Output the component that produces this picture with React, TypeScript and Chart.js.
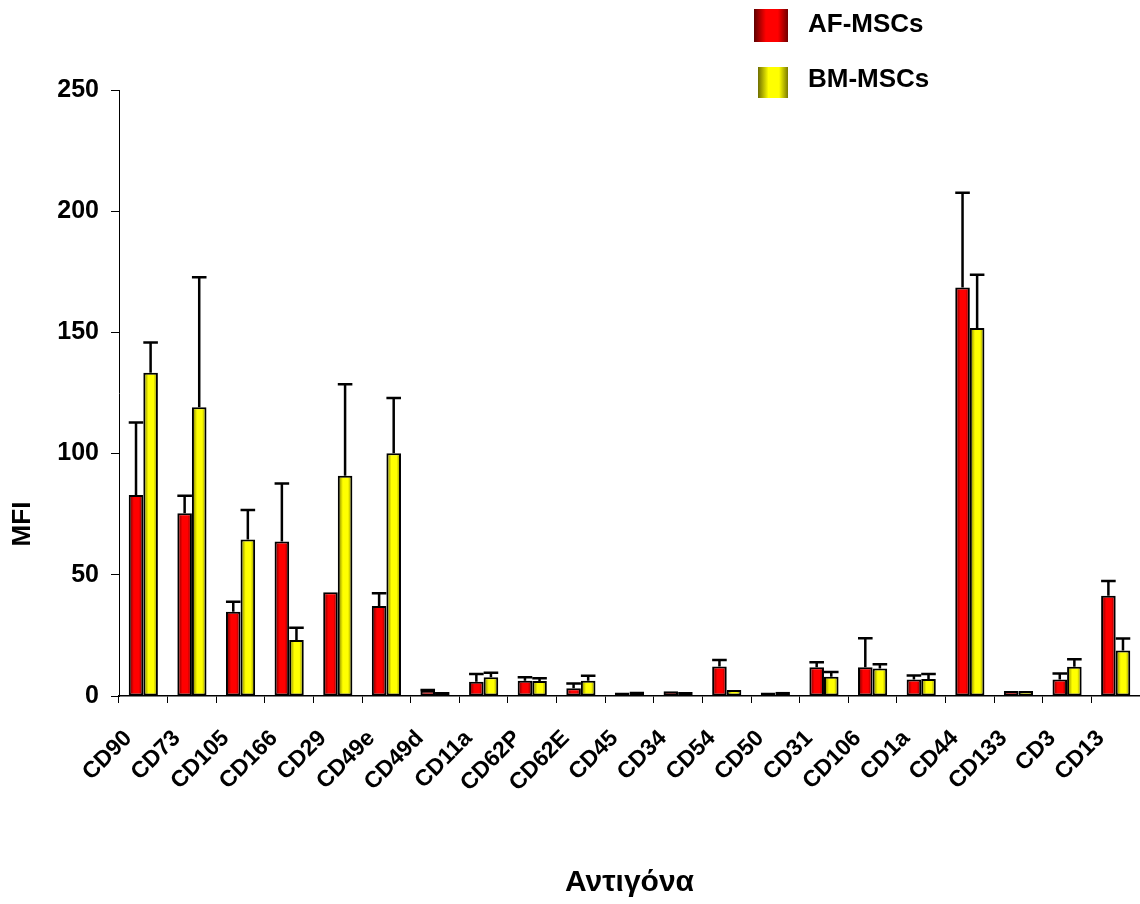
import React, { useEffect, useRef } from "react";
import { Chart, registerables } from "chart.js";

Chart.register(...registerables);

const categories = [
  "CD90", "CD73", "CD105", "CD166", "CD29", "CD49e", "CD49d", "CD11a", "CD62P", "CD62E", "CD45",
  "CD34", "CD54", "CD50", "CD31", "CD106", "CD1a", "CD44", "CD133", "CD3", "CD13",
];

const afValues = [82.9, 75.4, 34.8, 63.7, 42.8, 37.1, 2.2, 5.9, 6.3, 3.2, 1.4, 2.0, 12.2, 1.4, 11.9, 11.9, 6.8, 168.5, 2.1, 6.8, 41.4];
const afErrors = [29.9, 7.2, 4.1, 24.0, 0, 5.3, 0.3, 3.2, 1.4, 2.0, 0, 0, 2.7, 0, 2.0, 11.9, 1.7, 39.1, 0, 2.5, 6.0];

const bmValues = [133.4, 119.1, 64.6, 23.1, 90.9, 100.1, 1.6, 7.7, 6.2, 6.3, 1.9, 1.6, 2.5, 1.8, 7.9, 11.3, 7.0, 151.8, 2.1, 12.1, 18.8];
const bmErrors = [12.4, 53.7, 12.1, 5.1, 37.7, 22.8, 0, 1.9, 1.1, 2.1, 0, 0, 0, 0, 2.0, 1.8, 2.1, 22.0, 0, 3.1, 4.9];

const seriesNames = ["AF-MSCs", "BM-MSCs"];
const yAxisTitle = "MFI";
const xAxisTitle = "Αντιγόνα";

const FONT = "'Liberation Sans', Arial, Helvetica, sans-serif";

const gradientStops: [number, string][][] = [
  [
    [0, "#5e0000"],
    [0.35, "#ff0000"],
    [0.7, "#ff0000"],
    [1, "#700000"],
  ],
  [
    [0, "#6e6e00"],
    [0.35, "#ffff00"],
    [0.7, "#ffff00"],
    [1, "#7a7a00"],
  ],
];

function makeGradient(ctx: CanvasRenderingContext2D, x0: number, x1: number, idx: number) {
  const g = ctx.createLinearGradient(x0, 0, x1, 0);
  gradientStops[idx].forEach(([o, c]) => g.addColorStop(o, c));
  return g;
}

const barGradientPlugin = {
  id: "barGradient",
  beforeDatasetsDraw(chart: any) {
    const ctx = chart.ctx;
    chart.data.datasets.forEach((_ds: any, di: number) => {
      const meta = chart.getDatasetMeta(di);
      meta.data.forEach((el: any) => {
        const { x, width } = el.getProps(["x", "width"], true);
        el.options.backgroundColor = makeGradient(ctx, x - width / 2, x + width / 2, di);
      });
    });
  },
};

const errorBarPlugin = {
  id: "errorBars",
  afterDatasetsDraw(chart: any) {
    const ctx = chart.ctx;
    const yScale = chart.scales.y;
    const errs = [afErrors, bmErrors];
    const vals = [afValues, bmValues];
    ctx.save();
    ctx.strokeStyle = "#000";
    ctx.lineWidth = 2.5;
    ctx.lineCap = "butt";
    chart.data.datasets.forEach((_ds: any, di: number) => {
      const meta = chart.getDatasetMeta(di);
      meta.data.forEach((el: any, i: number) => {
        const e = errs[di][i];
        if (!e) return;
        const { x, y, width } = el.getProps(["x", "y", "width"], true);
        const top = yScale.getPixelForValue(vals[di][i] + e);
        ctx.beginPath();
        ctx.moveTo(x, y);
        ctx.lineTo(x, top);
        ctx.moveTo(x - width / 2, top);
        ctx.lineTo(x + width / 2, top);
        ctx.stroke();
      });
    });
    ctx.restore();
  },
};

const extrasPlugin = {
  id: "extras",
  afterDraw(chart: any) {
    const ctx = chart.ctx;
    ctx.save();
    ctx.fillStyle = "#000";
    ctx.font = `bold 26px ${FONT}`;
    ctx.textAlign = "center";
    ctx.textBaseline = "middle";
    ctx.translate(23, 524);
    ctx.rotate(-Math.PI / 2);
    ctx.fillText(yAxisTitle, 0, 0);
    ctx.restore();

    ctx.save();
    const boxes = [
      { x0: 754, x1: 788, y0: 9, y1: 42, ty: 25 },
      { x0: 758, x1: 788, y0: 67, y1: 98, ty: 80 },
    ];
    boxes.forEach((b, i) => {
      ctx.fillStyle = makeGradient(ctx, b.x0, b.x1, i);
      ctx.fillRect(b.x0, b.y0, b.x1 - b.x0, b.y1 - b.y0);
      ctx.fillStyle = "#000";
      ctx.font = `bold 26px ${FONT}`;
      ctx.textAlign = "left";
      ctx.textBaseline = "middle";
      ctx.fillText(seriesNames[i], 808, b.ty);
    });
    ctx.restore();
  },
};

export default function App() {
  const canvasRef = useRef<HTMLCanvasElement | null>(null);

  useEffect(() => {
    if (!canvasRef.current) return;
    const chart = new Chart(canvasRef.current, {
      type: "bar",
      data: {
        labels: categories,
        datasets: [
          {
            label: seriesNames[0],
            data: afValues,
            backgroundColor: () => "#ff0000",
            borderColor: "#000",
            borderWidth: 2,
            borderSkipped: false,
            categoryPercentage: 0.6,
            barPercentage: 1.0,
          },
          {
            label: seriesNames[1],
            data: bmValues,
            backgroundColor: () => "#ffff00",
            borderColor: "#000",
            borderWidth: 2,
            borderSkipped: false,
            categoryPercentage: 0.6,
            barPercentage: 1.0,
          },
        ],
      },
      options: {
        animation: false,
        responsive: false,
        devicePixelRatio: 1,
        layout: { padding: { top: 90, left: 0, right: 0, bottom: 0 } },
        plugins: {
          legend: { display: false },
          tooltip: { enabled: false },
        },
        scales: {
          x: {
            afterFit: (scale: any) => {
              scale.height = 208;
              scale.paddingLeft = 0;
              scale.paddingRight = 0;
            },
            grid: {
              drawOnChartArea: false,
              drawTicks: true,
              tickLength: 7,
              color: "#000",
              lineWidth: 1,
              offset: true,
            },
            border: { display: true, color: "#000", width: 1.5 },
            ticks: {
              autoSkip: false,
              maxRotation: 45,
              minRotation: 45,
              labelOffset: -15,
              padding: 22,
              color: "#000",
              font: { family: FONT, size: 23, weight: "bold" },
            },
            title: {
              display: true,
              text: xAxisTitle,
              color: "#000",
              font: { family: FONT, size: 30, weight: "bold" },
              padding: { top: 0, bottom: 3 },
            },
          },
          y: {
            min: 0,
            max: 250,
            afterFit: (scale: any) => {
              scale.width = 119;
            },
            grid: {
              drawOnChartArea: false,
              drawTicks: true,
              tickLength: 8,
              color: "#000",
              lineWidth: 1,
            },
            border: { display: true, color: "#000", width: 1 },
            ticks: {
              stepSize: 50,
              padding: 12,
              color: "#000",
              font: { family: FONT, size: 25, weight: "bold" },
            },
          },
        },
      },
      plugins: [barGradientPlugin, errorBarPlugin, extrasPlugin],
    } as any);
    return () => chart.destroy();
  }, []);

  return (
    <div style={{ position: "absolute", left: 0, top: 0, width: 1140, height: 904, background: "#fff" }}>
      <canvas ref={canvasRef} width={1140} height={904} style={{ display: "block" }} />
    </div>
  );
}
